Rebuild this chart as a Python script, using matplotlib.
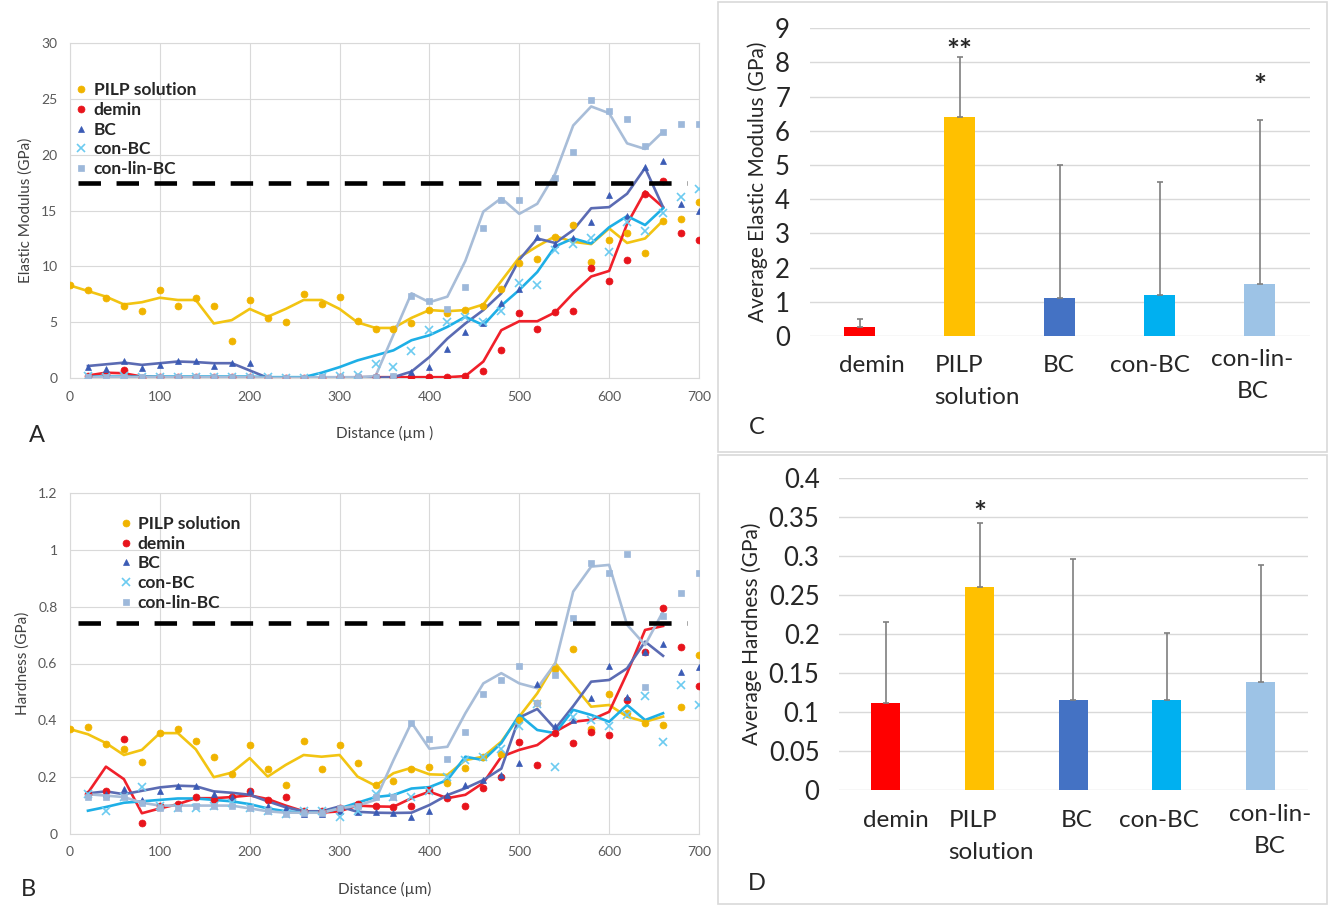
import numpy as np
import matplotlib
matplotlib.use("Agg")
import matplotlib.pyplot as plt
from matplotlib.patches import Rectangle

plt.rcParams['font.family'] = ['Lato', 'DejaVu Sans']

nan = np.nan
distance = np.arange(0, 701, 20)  # µm

# ---------------- Panel A : Elastic modulus (GPa) ----------------
A_pilp_pts = [8.3, 7.9, 7.2, 6.5, 6.0, 7.9, 6.5, 7.2, 6.5, 3.3, 7.0, 5.4, 5.0, 7.5, 6.6, 7.3, 5.1, 4.4,
              4.45, 4.95, 6.15, 5.8, 6.1, 6.5, 8.0, 10.3, 10.7, 12.6, 13.7, 10.4, 12.4, 13.0, 11.2, 14.1, 14.2, 15.8]
A_pilp_line = [8.3, 7.8, 7.3, 6.6, 6.8, 7.2, 7.0, 7.0, 4.9, 5.2, 6.2, 5.5, 6.2, 7.0, 7.0, 6.2, 5.0, 4.5,
               4.5, 5.4, 6.1, 6.0, 6.1, 6.6, 8.7, 10.8, 11.8, 12.7, 12.2, 12.0, 13.4, 12.1, 12.5, 14.1, nan, nan]
A_demin_pts = [nan, 0.2, 0.4, 0.7, 0.0, 0.1, 0.1, 0.1, 0.1, 0.1, 0.1, 0.0, 0.0, 0.0, 0.0, 0.1, 0.1, 0.1,
               0.1, 0.1, 0.1, 0.15, 0.25, 0.65, 2.5, 5.85, 4.4, 5.9, 6.0, 9.9, 8.7, 10.6, 16.5, 17.6, 13.0, 12.4]
A_demin_line = [nan, 0.25, 0.5, 0.45, 0.15, 0.1, 0.1, 0.1, 0.1, 0.1, 0.1, 0.05, 0.0, 0.0, 0.0, 0.05, 0.1, 0.1,
                0.1, 0.1, 0.1, 0.1, 0.2, 1.5, 4.3, 5.1, 5.1, 5.9, 7.6, 9.1, 9.6, 13.8, 16.7, 15.3, nan, nan]
A_bc_pts = [nan, 1.0, 0.87, 1.55, 0.96, 1.2, 1.55, 1.55, 1.1, 1.4, 1.4, 0.05, 0.05, 0.05, 0.05, 0.1, 0.1, 0.1,
            0.1, 0.57, 1.0, 2.65, 4.15, 4.95, 6.7, 8.0, 12.65, 12.0, 12.5, 14.0, 16.4, 14.5, 18.9, 19.4, 15.6, 15.0]
A_bc_line = [nan, 1.1, 1.25, 1.4, 1.2, 1.35, 1.5, 1.45, 1.35, 1.35, 0.7, 0.05, 0.05, 0.05, 0.05, 0.05, 0.05, 0.05,
             0.1, 0.6, 1.9, 3.55, 4.9, 6.1, 7.6, 10.6, 12.5, 12.1, 13.25, 15.2, 15.3, 16.5, 18.8, 15.3, nan, nan]
A_conbc_pts = [nan, 0.2, 0.1, 0.2, 0.1, 0.1, 0.1, 0.1, 0.1, 0.1, 0.1, 0.1, 0.0, 0.0, 0.1, 0.2, 0.3, 1.3,
               1.0, 2.4, 4.3, 5.0, 5.5, 5.0, 6.0, 8.5, 8.3, 11.5, 12.0, 12.5, 11.3, 14.0, 13.2, 14.8, 16.2, 16.9]
A_conbc_line = [nan, 0.15, 0.15, 0.15, 0.15, 0.15, 0.15, 0.15, 0.15, 0.15, 0.15, 0.1, 0.1, 0.1, 0.5, 1.0, 1.6, 2.05,
                2.5, 3.4, 3.85, 4.6, 5.5, 4.75, 6.5, 7.9, 9.5, 11.8, 12.5, 12.05, 13.5, 14.5, 13.7, 15.2, nan, nan]
A_conlin_pts = [nan, 0.1, 0.1, 0.1, 0.1, 0.1, 0.1, 0.1, 0.1, 0.1, 0.1, 0.0, 0.0, 0.0, 0.1, 0.1, 0.1, 0.1,
                0.2, 7.4, 6.9, 6.2, 8.2, 13.4, 15.9, 15.9, 13.4, 17.9, 20.2, 24.9, 23.9, 23.2, 20.8, 22.0, 22.7, 22.7]
A_conlin_line = [nan, 0.1, 0.1, 0.1, 0.1, 0.1, 0.1, 0.1, 0.1, 0.1, 0.1, 0.05, 0.05, 0.05, 0.1, 0.1, 0.1, 0.2,
                 3.9, 7.6, 6.8, 7.3, 10.5, 14.9, 16.1, 14.7, 15.6, 18.3, 22.6, 24.3, 23.7, 21.0, 20.5, 22.05, nan, nan]
A_reference = 17.45

# ---------------- Panel B : Hardness (GPa) ----------------
B_pilp_pts = [0.369, 0.377, 0.315, 0.298, 0.255, 0.354, 0.369, 0.328, 0.27, 0.21, 0.313, 0.228, 0.172, 0.329,
              0.229, 0.312, 0.25, 0.172, 0.186, 0.23, 0.236, 0.178, 0.233, 0.272, 0.282, 0.40, 0.46, 0.58,
              0.65, 0.369, 0.493, 0.425, 0.39, 0.385, 0.448, 0.63]
B_pilp_line = [0.369, 0.351, 0.32, 0.278, 0.296, 0.355, 0.355, 0.298, 0.2, 0.216, 0.267, 0.202, 0.243, 0.278,
               0.272, 0.278, 0.202, 0.17, 0.214, 0.233, 0.21, 0.208, 0.26, 0.272, 0.325, 0.413, 0.495, 0.601,
               0.525, 0.448, 0.454, 0.413, 0.395, 0.413, nan, nan]
B_demin_pts = [nan, 0.14, 0.15, 0.333, 0.04, 0.1, 0.105, 0.13, 0.12, 0.13, 0.15, 0.12, 0.129, 0.08, 0.08, 0.09,
               0.105, 0.099, 0.096, 0.099, 0.155, 0.126, 0.099, 0.161, 0.202, 0.325, 0.243, 0.355, 0.321, 0.36,
               0.347, 0.47, 0.64, 0.795, 0.657, 0.522]
B_demin_line = [nan, 0.145, 0.237, 0.193, 0.073, 0.09, 0.105, 0.126, 0.126, 0.13, 0.136, 0.123, 0.1, 0.08, 0.075,
                0.08, 0.1, 0.097, 0.096, 0.126, 0.149, 0.126, 0.138, 0.18, 0.272, 0.296, 0.313, 0.36, 0.395,
                0.402, 0.43, 0.566, 0.718, 0.732, nan, nan]
B_bc_pts = [nan, 0.14, 0.14, 0.16, 0.12, 0.15, 0.17, 0.17, 0.14, 0.13, 0.15, 0.1, 0.09, 0.07, 0.07, 0.08, 0.078,
            0.077, 0.075, 0.061, 0.082, 0.137, 0.172, 0.19, 0.208, 0.251, 0.528, 0.38, 0.4, 0.478, 0.592, 0.483,
            0.64, 0.668, 0.571, 0.589]
B_bc_line = [nan, 0.143, 0.15, 0.14, 0.152, 0.164, 0.17, 0.168, 0.15, 0.145, 0.138, 0.115, 0.094, 0.08, 0.08,
             0.097, 0.078, 0.075, 0.074, 0.075, 0.102, 0.137, 0.161, 0.19, 0.23, 0.41, 0.44, 0.37, 0.45, 0.536,
             0.542, 0.583, 0.677, 0.627, nan, nan]
B_conbc_pts = [nan, 0.14, 0.081, 0.13, 0.164, 0.1, 0.09, 0.09, 0.1, 0.11, 0.09, 0.08, 0.07, 0.08, 0.08, 0.06, 0.08,
               0.14, 0.13, 0.13, 0.15, 0.2, 0.26, 0.27, 0.3, 0.38, 0.458, 0.237, 0.41, 0.4, 0.38, 0.42, 0.486,
               0.323, 0.525, 0.454]
B_conbc_line = [nan, 0.082, 0.095, 0.11, 0.115, 0.12, 0.125, 0.125, 0.12, 0.115, 0.105, 0.09, 0.08, 0.075, 0.075,
                0.09, 0.11, 0.13, 0.137, 0.16, 0.165, 0.19, 0.272, 0.26, 0.32, 0.419, 0.366, 0.355, 0.437, 0.419,
                0.395, 0.454, 0.401, 0.425, nan, nan]
B_conlin_pts = [nan, 0.13, 0.131, 0.13, 0.11, 0.09, 0.09, 0.1, 0.1, 0.1, 0.09, 0.08, 0.07, 0.075, 0.075, 0.09, 0.1,
                0.13, 0.13, 0.392, 0.333, 0.263, 0.36, 0.492, 0.542, 0.592, 0.46, 0.56, 0.759, 0.955, 0.918, 0.986,
                0.519, 0.768, 0.847, 0.92]
B_conlin_line = [nan, 0.14, 0.135, 0.13, 0.11, 0.1, 0.1, 0.1, 0.1, 0.1, 0.09, 0.08, 0.075, 0.075, 0.075, 0.09, 0.1,
                 0.12, 0.26, 0.392, 0.30, 0.307, 0.425, 0.53, 0.566, 0.53, 0.513, 0.60, 0.853, 0.941, 0.947, 0.736,
                 0.665, 0.783, nan, nan]
B_reference = 0.742

# ---------------- Panels C & D : averages ----------------
bar_groups = ["demin", "PILP\nsolution", "BC", "con-BC", "con-lin-\nBC"]
C_mean = [0.25, 6.42, 1.1, 1.2, 1.53]
C_err = [0.25, 1.73, 3.9, 3.3, 4.8]
C_stars = ["", "**", "", "", "*"]
C_star_y = [0, 8.05, 0, 0, 7.03]
D_mean = [0.112, 0.261, 0.116, 0.116, 0.139]
D_err = [0.103, 0.081, 0.181, 0.086, 0.150]
D_stars = ["", "*", "", "", ""]
D_star_y = [0, 0.343, 0, 0, 0]

# ---------------- styling ----------------
series_names = ["PILP solution", "demin", "BC", "con-BC", "con-lin-BC"]
pt_colors = ["#F0B400", "#E8141C", "#3B5BB5", "#6CCBF0", "#9DB8DA"]
ln_colors = ["#F2C412", "#F0202A", "#5B6BB3", "#1EAFE6", "#A8BDD8"]
markers = ["o", "o", "^", "x", "s"]
bar_colors = ["#FF0000", "#FFC000", "#4472C4", "#00B0F0", "#9DC3E6"]

# label placement (pixel offsets from bar centre, alignment) for category labels in C and D
C_lab_layout = [(12, 0, "center"), (-25, 0, "left"), (-1, 0, "center"), (-10, 0, "center"), (-7, -6, "center")]
D_lab_layout = [(10, 0, "center"), (-31, 0, "left"), (3, 0, "center"), (-8, 0, "center"), (9, -6, "center")]

W, H = 1329, 906
fig = plt.figure(figsize=(W / 100, H / 100), dpi=100)


def fx(px):
    return px / W


def fy(py):
    return 1 - py / H


def line_panel(rect, pts, lines, ylim, yticks, ytl, ylabel, xlabel, ref, leg_anchor):
    ax = fig.add_axes(rect)
    for l, lc in zip(lines, ln_colors):
        ax.plot(distance, l, color=lc, lw=1.9, zorder=3)
    for p, pc, m, nm in zip(pts, pt_colors, markers, series_names):
        ax.plot(distance, p, ls="none", marker=m, color=pc, ms=5 if m != "x" else 5.5,
                mew=1.2 if m == "x" else 0.5, label=nm, zorder=4)
    ax.plot([9, 687], [ref, ref], color="black", lw=3.3, ls=(0, (4.9, 3.4)), zorder=5,
            solid_capstyle="butt", dash_capstyle="butt")
    ax.set_xlim(0, 700)
    ax.set_ylim(*ylim)
    ax.set_xticks(range(0, 701, 100))
    ax.set_yticks(yticks)
    ax.set_yticklabels(ytl)
    ax.grid(True, color="#D9D9D9", lw=0.8)
    ax.set_axisbelow(True)
    for s in ax.spines.values():
        s.set_color("#D9D9D9")
        s.set_linewidth(0.8)
    ax.tick_params(length=0, labelsize=10, colors="#595959", pad=9)
    ax.set_ylabel(ylabel, fontsize=11, color="#404040", labelpad=6)
    ax.set_xlabel(xlabel, fontsize=11, color="#404040", labelpad=17)
    leg = ax.legend(loc="upper left", bbox_to_anchor=leg_anchor, frameon=False, handlelength=0.6,
                    handletextpad=0.4, labelspacing=0.22, borderpad=0, borderaxespad=0,
                    prop={"size": 12.5, "weight": "bold"})
    for t in leg.get_texts():
        t.set_color("#262626")
    return ax


# Panel A
line_panel([fx(70), fy(378.3), fx(629), 335.6 / H],
           [A_pilp_pts, A_demin_pts, A_bc_pts, A_conbc_pts, A_conlin_pts],
           [A_pilp_line, A_demin_line, A_bc_line, A_conbc_line, A_conlin_line],
           (0, 30), range(0, 31, 5), [str(v) for v in range(0, 31, 5)],
           "Elastic Modulus (GPa)", "Distance (µm )", A_reference, (0.01, 0.883))

# Panel B
line_panel([fx(70), fy(834), fx(629), 341 / H],
           [B_pilp_pts, B_demin_pts, B_bc_pts, B_conbc_pts, B_conlin_pts],
           [B_pilp_line, B_demin_line, B_bc_line, B_conbc_line, B_conlin_line],
           (0, 1.2), [0, 0.2, 0.4, 0.6, 0.8, 1.0, 1.2], ["0", "0.2", "0.4", "0.6", "0.8", "1", "1.2"],
           "Hardness (GPa)", "Distance (µm)", B_reference, (0.08, 0.933))


def bar_panel(rect, mean, err, stars, star_y, ylim, yticks, ytl, ylabel, lab_layout, lab_y):
    ax = fig.add_axes(rect)
    x = np.arange(len(bar_groups))
    ax.bar(x, mean, width=0.31, color=bar_colors, zorder=3,
           yerr=[np.zeros(len(err)), err], ecolor="#7F7F7F",
           error_kw=dict(lw=1.2, capsize=2.5, capthick=1.2, zorder=4))
    for xi, s, sy in zip(x, stars, star_y):
        if s:
            ax.text(xi, sy, s, ha="center", va="baseline", fontsize=22, fontweight="bold", color="#262626")
    ax.set_xlim(-0.5, len(bar_groups) - 0.5)
    ax.set_ylim(*ylim)
    ax.set_yticks(yticks)
    ax.set_yticklabels(ytl)
    ax.set_xticks(x)
    ax.set_xticklabels([])
    ax.grid(True, axis="y", color="#D9D9D9", lw=1.0)
    ax.set_axisbelow(True)
    for s in ax.spines.values():
        s.set_visible(False)
    ax.tick_params(axis="y", length=0, labelsize=18.5, colors="#262626", pad=14)
    ax.tick_params(axis="x", length=0)
    ax.set_ylabel(ylabel, fontsize=15, color="#262626", labelpad=5)
    # category labels, placed at each bar's data x position plus a small pixel offset
    for xi, name, (dx, dy, ha) in zip(x, bar_groups, lab_layout):
        bx = ax.transData.transform((xi, 0))[0]
        fig.text((bx + dx) / W, fy(lab_y + dy), name, ha=ha, va="top", fontsize=17.5,
                 color="#262626", linespacing=1.62, multialignment=ha)
    return ax


# Panel C
bar_panel([fx(809.5), fy(336), fx(500), 307.7 / H], C_mean, C_err, C_stars, C_star_y,
          (0, 9), range(0, 10), [str(v) for v in range(0, 10)], "Average Elastic Modulus (GPa)",
          C_lab_layout, 355)

# Panel D
bar_panel([fx(839), fy(790), fx(468.5), 311.7 / H], D_mean, D_err, D_stars, D_star_y,
          (0, 0.4), np.arange(0, 0.401, 0.05),
          ["0", "0.05", "0.1", "0.15", "0.2", "0.25", "0.3", "0.35", "0.4"], "Average Hardness (GPa)",
          D_lab_layout, 810)

# panel frames on the right
for y0, y1 in [(2, 452), (455, 904)]:
    fig.add_artist(Rectangle((fx(718), fy(y1)), fx(1327 - 718), (y1 - y0) / H, transform=fig.transFigure,
                             fill=False, edgecolor="#D9D9D9", lw=1.2))

# panel letters
for letter, px, py in [("A", 37, 435), ("B", 28, 890), ("C", 757, 428), ("D", 757, 884)]:
    fig.text(fx(px), fy(py), letter, fontsize=17, ha="center", va="center", color="#262626")

fig.savefig("out.png", dpi=100)
